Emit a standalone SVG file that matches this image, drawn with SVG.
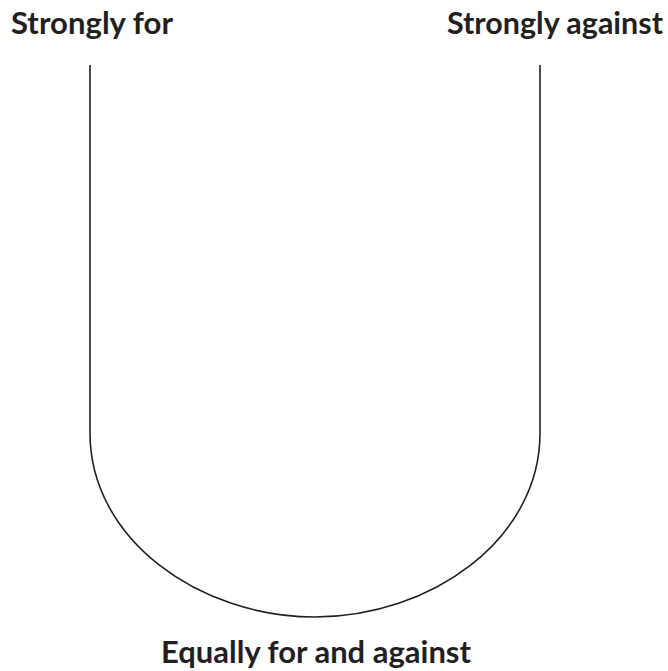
<svg xmlns="http://www.w3.org/2000/svg" width="668" height="671" viewBox="0 0 668 671">
<style>
.lbl{font-family:Lato,"Open Sans","Liberation Sans",sans-serif;font-weight:bold;font-size:30px;fill:#231f20}
.ln{fill:none;stroke:#231f20;stroke-width:1.6}
</style>
<rect width="668" height="671" fill="#fff"/>
<g id="connectors">
<path class="ln" d="M90,65 L90,433 C90,540 200,617 315,617 C430,617 540,540 540,433 L540,65"/>
</g>
<g id="strongly-for"><text class="lbl" x="11" y="34" textLength="162" lengthAdjust="spacingAndGlyphs">Strongly for</text></g>
<g id="strongly-against"><text class="lbl" x="447" y="34" textLength="216" lengthAdjust="spacingAndGlyphs">Strongly against</text></g>
<g id="equally"><text class="lbl" x="161" y="663" textLength="310" lengthAdjust="spacingAndGlyphs">Equally for and against</text></g>
</svg>
